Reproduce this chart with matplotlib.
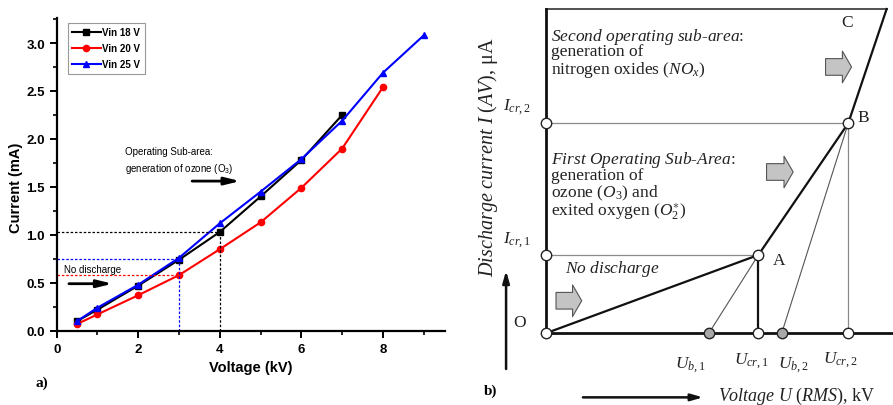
import matplotlib
matplotlib.use("Agg")
import matplotlib.pyplot as plt

# === DATA: panel a) measured current vs voltage ===
volt_18 = [0.5, 1, 2, 3, 4, 5, 6, 7]
curr_18 = [0.10, 0.22, 0.47, 0.74, 1.03, 1.40, 1.78, 2.25]
volt_20 = [0.5, 1, 2, 3, 4, 5, 6, 7, 8]
curr_20 = [0.07, 0.17, 0.37, 0.58, 0.85, 1.13, 1.49, 1.90, 2.54]
volt_25 = [0.5, 1, 2, 3, 4, 5, 6, 7, 8, 9]
curr_25 = [0.10, 0.24, 0.48, 0.76, 1.12, 1.45, 1.79, 2.19, 2.69, 3.08]
series_labels = ["Vin 18 V", "Vin 20 V", "Vin 25 V"]

# threshold guide lines (voltage, current)
thr_18 = (4, 1.03)
thr_25 = (3, 0.75)
thr_20 = (3, 0.58)

# === DATA: panel b) schematic points (arbitrary units) ===
U_B1, U_CR1, U_B2, U_CR2 = 5.39, 7.03, 7.80, 10.0
I_CR1, I_CR2 = 3.73, 10.0
U_C, I_C = 11.27, 15.44
U_MAX = 11.48

plt.rcParams['font.family'] = ['Liberation Sans', 'DejaVu Sans']
plt.rcParams['mathtext.fontset'] = 'custom'
plt.rcParams['mathtext.rm'] = 'Liberation Serif'
plt.rcParams['mathtext.it'] = 'Liberation Serif:italic'
plt.rcParams['mathtext.bf'] = 'Liberation Serif:bold'
plt.rcParams['mathtext.sf'] = 'Liberation Sans'

fig = plt.figure(figsize=(8.93, 4.06), dpi=100)

# ---------------- panel a) ----------------
ax = fig.add_axes([0.0635, 0.183, 0.4348, 0.770])
ax.plot(volt_18, curr_18, '-s', color='black', lw=1.5, ms=4, label=series_labels[0])
ax.plot(volt_20, curr_20, '-o', color='red', lw=1.5, ms=4.5, label=series_labels[1])
ax.plot(volt_25, curr_25, '-^', color='blue', lw=1.5, ms=5, label=series_labels[2])

dots = (0, (2, 1.5))
ax.plot([0, thr_18[0]], [thr_18[1]] * 2, color='black', ls=dots, lw=0.9)
ax.plot([thr_18[0]] * 2, [0, thr_18[1]], color='black', ls=dots, lw=0.9)
ax.plot([0, thr_25[0]], [thr_25[1]] * 2, color='blue', ls=dots, lw=0.9)
ax.plot([thr_25[0]] * 2, [0, thr_25[1]], color='blue', ls=dots, lw=0.9)
ax.plot([0, thr_20[0]], [thr_20[1]] * 2, color='red', ls=dots, lw=0.9)

ax.set_xlim(0, 9.52)
ax.set_ylim(0, 3.26)
ax.set_xticks([0, 2, 4, 6, 8])
ax.set_xticks([1, 3, 5, 7, 9], minor=True)
ax.set_yticks([0, 0.5, 1.0, 1.5, 2.0, 2.5, 3.0])
ax.set_yticks([0.25, 0.75, 1.25, 1.75, 2.25, 2.75, 3.25], minor=True)
ax.spines['top'].set_visible(False)
ax.spines['right'].set_visible(False)
for s in ['left', 'bottom']:
    ax.spines[s].set_linewidth(1.6)
ax.tick_params(which='major', length=5, width=1.4, labelsize=9.5)
ax.tick_params(which='minor', length=3, width=1.2)
for lab in ax.get_xticklabels() + ax.get_yticklabels():
    lab.set_fontweight('bold')
ax.set_xlabel("Voltage (kV)", fontsize=10.5, fontweight='bold', labelpad=4)
ax.set_ylabel("Current (mA)", fontsize=10.5, fontweight='bold')
ax.yaxis.set_label_coords(-0.088, 0.46)

leg = ax.legend(loc='upper left', bbox_to_anchor=(0.029, 0.984), borderaxespad=0,
                prop={'size': 7, 'weight': 'bold'}, handlelength=2.9,
                handletextpad=0.2, labelspacing=0.6, borderpad=0.45,
                fancybox=False, edgecolor='#999999', framealpha=1)
leg.get_frame().set_linewidth(0.8)

ax.text(1.68, 1.87, "Operating Sub-area:", fontsize=7, va='center')
ax.text(1.68, 1.70, r"generation of ozone (O$_{\mathsf{3}}$)", fontsize=7, va='center')
ax.annotate("", xy=(4.5, 1.56), xytext=(3.32, 1.56),
            arrowprops=dict(arrowstyle='-|>,head_length=0.9,head_width=0.22',
                            color='black', lw=2, shrinkA=0, shrinkB=0))
ax.text(0.18, 0.64, "No discharge", fontsize=7, va='center')
ax.annotate("", xy=(1.37, 0.49), xytext=(0.3, 0.49),
            arrowprops=dict(arrowstyle='-|>,head_length=0.9,head_width=0.22',
                            color='black', lw=2, shrinkA=0, shrinkB=0))
fig.text(35 / 893, 1 - 383 / 406, "a)", fontsize=11, fontweight='bold',
         family='Liberation Serif', va='center')

# ---------------- panel b) ----------------
bx = fig.add_axes([0.6111, 0.1766, 0.3889, 0.7988])
bx.set_xlim(0, U_MAX)
bx.set_ylim(0, I_C)
bx.axis('off')

thin = dict(color='#8a8a8a', lw=0.9, clip_on=False)
bx.plot([0, U_CR1], [I_CR1, I_CR1], **thin)
bx.plot([0, U_CR2], [I_CR2, I_CR2], **thin)
bx.plot([U_CR2, U_CR2], [0, I_CR2], **thin)
bx.plot([U_B1, U_CR1], [0, I_CR1], color='#555555', lw=0.8, clip_on=False)
bx.plot([U_B2, U_CR2], [0, I_CR2], color='#555555', lw=0.8, clip_on=False)
bx.plot([0, U_C], [I_C, I_C], color='#333333', lw=1.2, clip_on=False)
bx.plot([0, 0], [0, I_C], color='#111111', lw=2, clip_on=False)
bx.plot([0, U_MAX], [0, 0], color='#111111', lw=2, clip_on=False)
bx.plot([U_CR1, U_CR1], [0, I_CR1], color='#111111', lw=1.6, clip_on=False)
bx.plot([0, U_CR1, U_CR2, U_C], [0, I_CR1, I_CR2, I_C], color='#111111', lw=1.6, clip_on=False)

open_u = [0, 0, 0, U_CR1, U_CR2, U_CR1, U_CR2]
open_i = [0, I_CR1, I_CR2, I_CR1, I_CR2, 0, 0]
bx.plot(open_u, open_i, 'o', ms=7.5, mfc='white', mec='#222222', mew=1, clip_on=False, zorder=5)
bx.plot([U_B1, U_B2], [0, 0], 'o', ms=7.5, mfc='#a8a8a8', mec='#222222', mew=1, clip_on=False, zorder=5)

serif = dict(family='Liberation Serif', fontsize=12.5, va='center', color='#222222')
bx.text(0.18, 14.17, r"$\mathit{Second\ operating\ sub}$-$\mathit{area}$:", **serif)
bx.text(0.18, 13.42, "generation of", **serif)
bx.text(0.18, 12.6, r"nitrogen oxides ($NO_x$)", **serif)
bx.text(0.18, 8.3, r"$\mathit{First\ Operating\ Sub}$-$\mathit{Area}$:", **serif)
bx.text(0.18, 7.55, "generation of", **serif)
bx.text(0.18, 6.7, r"ozone ($O_3$) and", **serif)
bx.text(0.18, 5.85, r"exited oxygen ($O_2^{\ast}$)", **serif)
bx.text(0.64, 3.11, r"$\mathit{No\ discharge}$", **serif)

lab = dict(family='Liberation Serif', fontsize=12.5, ha='center', va='center', color='#222222')
bx.text(-0.85, 0.55, "O", **lab)
bx.text(7.72, 3.5, "A", **lab)
bx.text(10.5, 10.31, "B", **lab)
bx.text(9.95, 14.82, "C", **lab)
bx.text(-0.95, 10.8, r"$I_{cr,2}$", **lab)
bx.text(-0.95, 4.5, r"$I_{cr,1}$", **lab)
bx.text(4.77, -1.46, r"$U_{b,1}$", **lab)
bx.text(6.81, -1.26, r"$U_{cr,1}$", **lab)
bx.text(8.2, -1.46, r"$U_{b,2}$", **lab)
bx.text(9.73, -1.22, r"$U_{cr,2}$", **lab)
bx.text(-1.9, 8.44, r"$\mathit{Discharge\ current\ I\ (AV)}$, μA", rotation=90,
        family='Liberation Serif', fontsize=14.5, ha='center', va='center', color='#222222')
bx.text(5.7, -2.98, r"$\mathit{Voltage\ U\ (RMS)}$, kV", family='Liberation Serif',
        fontsize=13, ha='left', va='center', color='#222222')
bx.text(-1.81, -2.7, "b)", family='Liberation Serif', fontsize=11, fontweight='bold',
        ha='center', va='center')

bx.annotate("", xy=(-1.31, 2.98), xytext=(-1.31, -1.7), annotation_clip=False,
            arrowprops=dict(arrowstyle='-|>,head_length=0.7,head_width=0.2',
                            color='#111111', lw=1.8, shrinkA=0, shrinkB=0))
bx.annotate("", xy=(5.2, -3.05), xytext=(1.23, -3.05), annotation_clip=False,
            arrowprops=dict(arrowstyle='-|>,head_length=0.7,head_width=0.2',
                            color='#111111', lw=1.8, shrinkA=0, shrinkB=0))

# gray block arrows
for x0, x1, yc in [(9.25, 10.11, 12.68), (7.30, 8.18, 7.68), (0.34, 1.19, 1.55)]:
    bx.annotate("", xy=(x1, yc), xytext=(x0, yc), annotation_clip=False,
                arrowprops=dict(arrowstyle='simple,head_length=0.55,head_width=1.9,tail_width=1.0',
                                mutation_scale=12, fc='#c4c4c4', ec='#555555', lw=0.8,
                                shrinkA=0, shrinkB=0))

fig.savefig("out.png", dpi=100)
